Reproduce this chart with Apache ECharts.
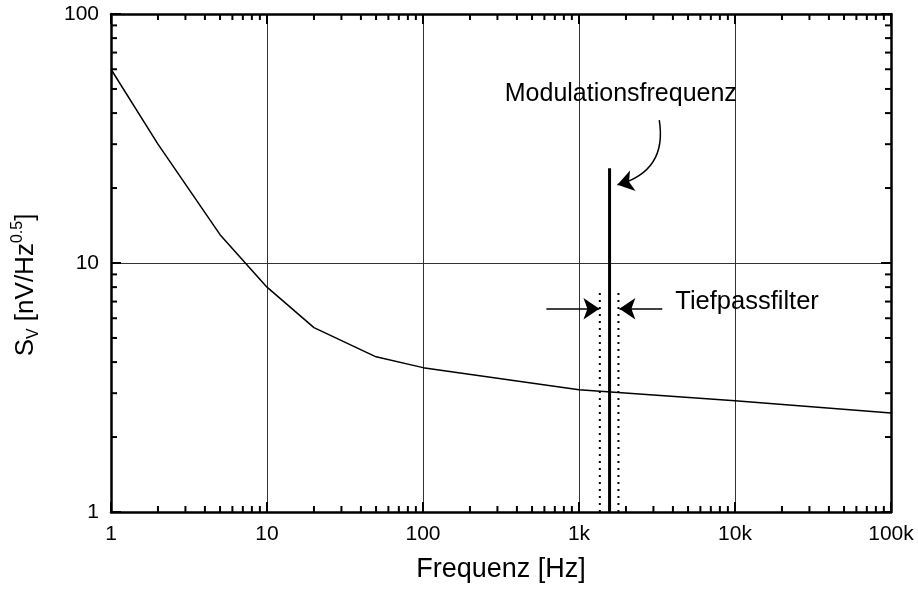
<!DOCTYPE html>
<html>
<head>
<meta charset="utf-8">
<script src="https://cdn.jsdelivr.net/npm/echarts@6/dist/echarts.min.js"></script>
<style>
html,body{margin:0;padding:0;background:#fff;}
#chart{width:918px;height:589px;}
</style>
</head>
<body>
<div id="chart"></div>
<script>
// ---- data ----
const freqHz   = [1, 2, 5, 10, 20, 50, 100, 1000, 10000, 100000];
const noiseSv  = [60, 30, 13, 8, 5.5, 4.2, 3.8, 3.1, 2.8, 2.5];
const peakFreq = 1570;
const peakTop  = 24;
const filterLow  = 1360;
const filterHigh = 1790;
const filterTop  = 7.8;
const xTickValues = [1, 10, 100, 1000, 10000, 100000];
const xTickLabels = ['1', '10', '100', '1k', '10k', '100k'];
const yTickValues = [1, 10, 100];
const yTickLabels = ['1', '10', '100'];
const annotModText = 'Modulationsfrequenz';
const annotModPos = [1854, 47.5];
const annotTiefText = 'Tiefpassfilter';
const annotTiefPos = [4140, 6.97];
const arrowLeft  = [[618, 6.55], [1352, 6.55]];
const arrowRight = [[3420, 6.55], [1815, 6.55]];
const arrowCurve = [[3270, 37.5], [1762, 20.6]];

// minor tick positions (axis decoration)
const xMinor = [];
for (let d = 1; d < 100000; d *= 10) for (let k = 2; k <= 9; k++) xMinor.push(d * k);
const yMinor = [];
for (let d = 1; d < 100; d *= 10) for (let k = 2; k <= 9; k++) yMinor.push(d * k);

const FONT = '"Liberation Sans", Arial, sans-serif';
const chart = echarts.init(document.getElementById('chart'), null, {renderer: 'canvas'});

function fmtX(v) {
  const i = xTickValues.findIndex(t => Math.abs(t - v) / t < 1e-6);
  return i >= 0 ? xTickLabels[i] : '';
}
function fmtY(v) {
  const i = yTickValues.findIndex(t => Math.abs(t - v) / t < 1e-6);
  return i >= 0 ? yTickLabels[i] : '';
}

const baseX = {
  type: 'log', logBase: 10, min: 1, max: 100000,
  axisLine: {show: true, onZero: false, lineStyle: {color: '#000', width: 2.5}},
  axisTick: {show: true, inside: true, length: 10, lineStyle: {color: '#000', width: 2}},
  splitLine: {show: false},
  minorTick: {show: false},
};
const baseY = {
  type: 'log', logBase: 10, min: 1, max: 100,
  axisLine: {show: true, onZero: false, lineStyle: {color: '#000', width: 2.5}},
  axisTick: {show: true, inside: true, length: 10, lineStyle: {color: '#000', width: 2}},
  splitLine: {show: false},
  minorTick: {show: false},
};

const option = {
  animation: false,
  backgroundColor: '#fff',
  grid: {left: 111, right: 27, top: 14, bottom: 77, containLabel: false},
  xAxis: [
    Object.assign({}, baseX, {
      position: 'bottom',
      splitLine: {show: true, lineStyle: {color: '#333', width: 1}},
      axisLabel: {show: true, formatter: fmtX, color: '#000', fontSize: 21, fontFamily: FONT, margin: 12},
      name: 'Frequenz [Hz]', nameLocation: 'middle', nameGap: 44,
      nameTextStyle: {color: '#000', fontSize: 27, fontFamily: FONT}
    }),
    Object.assign({}, baseX, {position: 'top', axisLabel: {show: false}})
  ],
  yAxis: [
    Object.assign({}, baseY, {
      position: 'left',
      splitLine: {show: true, lineStyle: {color: '#333', width: 1}},
      axisLabel: {show: true, formatter: fmtY, color: '#000', fontSize: 21, fontFamily: FONT, margin: 12},
      name: '{m|S}{sub|V}{m| [nV/Hz}{sup|0.5}{m|]}', nameLocation: 'middle', nameGap: 69, nameRotate: 90,
      nameTextStyle: {
        color: '#000', fontFamily: FONT, padding: [0, 44, 0, 0],
        rich: {
          m: {fontSize: 26, fontFamily: FONT, color: '#000', lineHeight: 32},
          sub: {fontSize: 16, fontFamily: FONT, color: '#000', verticalAlign: 'bottom', lineHeight: 14},
          sup: {fontSize: 16, fontFamily: FONT, color: '#000', verticalAlign: 'top', lineHeight: 14}
        }
      }
    }),
    Object.assign({}, baseY, {position: 'right', axisLabel: {show: false}})
  ],
  series: [
    {
      type: 'line', name: 'noise', xAxisIndex: 0, yAxisIndex: 0,
      data: freqHz.map((f, i) => [f, noiseSv[i]]),
      showSymbol: false, symbol: 'none',
      lineStyle: {color: '#000', width: 1.5}, z: 5
    },
    {
      type: 'line', name: 'peak', data: [[peakFreq, 1], [peakFreq, peakTop]],
      showSymbol: false, symbol: 'none', lineStyle: {color: '#000', width: 3}, z: 6
    },
    {
      type: 'line', name: 'fLow', data: [[filterLow, 1], [filterLow, filterTop]],
      showSymbol: false, symbol: 'none', lineStyle: {color: '#000', width: 2, type: [2, 5]}, z: 6
    },
    {
      type: 'line', name: 'fHigh', data: [[filterHigh, 1], [filterHigh, filterTop]],
      showSymbol: false, symbol: 'none', lineStyle: {color: '#000', width: 2, type: [2, 5]}, z: 6
    },
    {
      type: 'lines', coordinateSystem: 'cartesian2d', polyline: false,
      symbol: ['none', 'arrow'], symbolSize: [11, 16],
      lineStyle: {color: '#000', width: 1.5, opacity: 1},
      data: [{coords: arrowLeft}, {coords: arrowRight}], z: 7
    },
    {
      type: 'lines', coordinateSystem: 'cartesian2d', polyline: false,
      symbol: ['none', 'arrow'], symbolSize: [11, 16],
      lineStyle: {color: '#000', width: 1.5, opacity: 1, curveness: 0.45},
      data: [{coords: arrowCurve}], z: 7
    },
    {
      type: 'scatter', symbolSize: 0, silent: true,
      itemStyle: {opacity: 1},
      data: [
        {value: annotModPos, label: {show: true, formatter: annotModText, position: 'inside', color: '#000', opacity: 1, textBorderWidth: 0, fontSize: 25, fontFamily: FONT}},
        {value: annotTiefPos, label: {show: true, formatter: annotTiefText, position: 'right', distance: 0, color: '#000', opacity: 1, textBorderWidth: 0, fontSize: 25.5, fontFamily: FONT}}
      ], z: 8
    },
    {
      type: 'custom', name: 'xMinorTicks', coordinateSystem: 'cartesian2d', clip: false, silent: true,
      data: xMinor.map(v => [v, 1]),
      renderItem: function (params, api) {
        const v = api.value(0);
        const b = api.coord([v, 1]);
        const t = api.coord([v, 100]);
        return {type: 'group', children: [
          {type: 'line', shape: {x1: b[0], y1: b[1], x2: b[0], y2: b[1] - 6}, style: {stroke: '#000', lineWidth: 2}},
          {type: 'line', shape: {x1: t[0], y1: t[1], x2: t[0], y2: t[1] + 6}, style: {stroke: '#000', lineWidth: 2}}
        ]};
      }, z: 9
    },
    {
      type: 'custom', name: 'yMinorTicks', coordinateSystem: 'cartesian2d', clip: false, silent: true,
      data: yMinor.map(v => [1, v]),
      renderItem: function (params, api) {
        const v = api.value(1);
        const l = api.coord([1, v]);
        const r = api.coord([100000, v]);
        return {type: 'group', children: [
          {type: 'line', shape: {x1: l[0], y1: l[1], x2: l[0] + 6, y2: l[1]}, style: {stroke: '#000', lineWidth: 2}},
          {type: 'line', shape: {x1: r[0], y1: r[1], x2: r[0] - 6, y2: r[1]}, style: {stroke: '#000', lineWidth: 2}}
        ]};
      }, z: 9
    }
  ]
};
chart.setOption(option);
</script>
</body>
</html>
